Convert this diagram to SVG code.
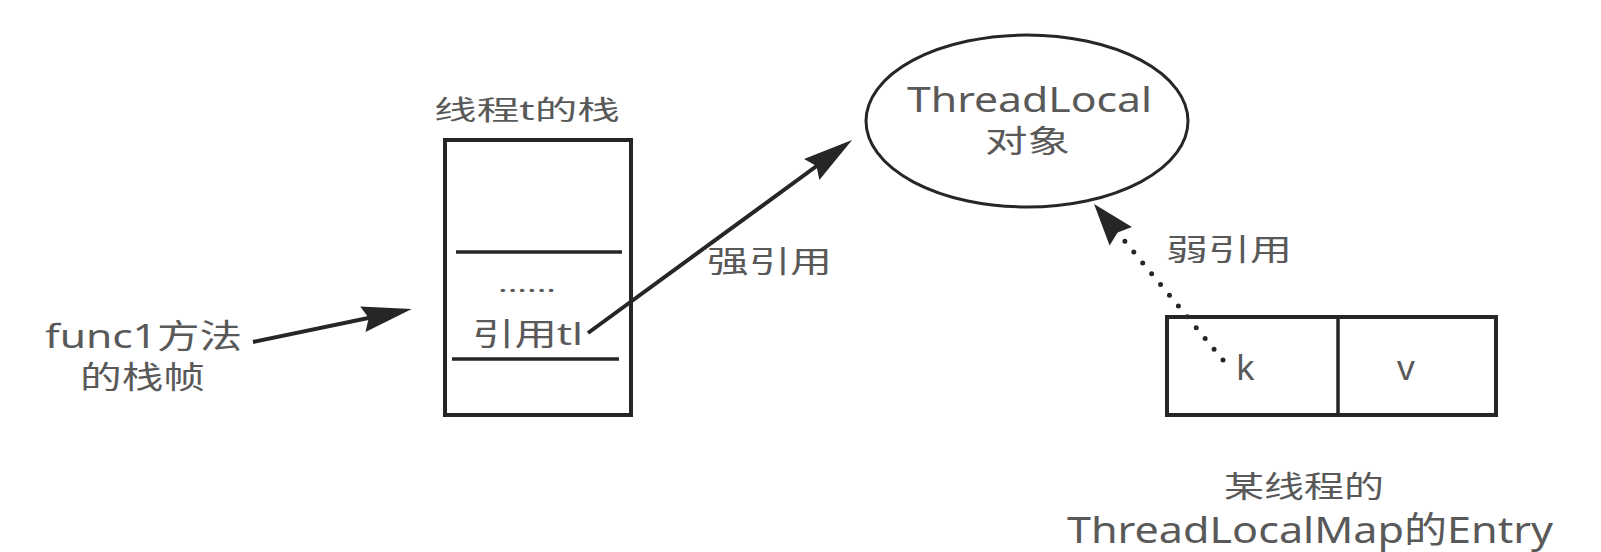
<svg xmlns="http://www.w3.org/2000/svg" width="1601" height="552" viewBox="0 0 1601 552">
  <style>
    .t { font-family: "Noto Sans", "Noto Sans CJK SC", sans-serif; fill: #595959; }
    .box { fill: #ffffff; stroke: #262626; stroke-width: 4; }
    .div { stroke: #262626; stroke-width: 3.5; fill: none; }
    .conn { stroke: #262626; stroke-width: 4; fill: none; }
    .dot { stroke: #262626; stroke-width: 5; fill: none; stroke-dasharray: 0 14; stroke-linecap: round; }
  </style>
  <defs>
    <marker id="head" markerUnits="userSpaceOnUse" markerWidth="50" markerHeight="26" refX="40" refY="13" orient="auto" overflow="visible">
      <path d="M0,0 L50,13 L0,26 L6,13 Z" fill="#262626"/>
    </marker>
    <marker id="headS" markerUnits="userSpaceOnUse" markerWidth="42" markerHeight="29" refX="32" refY="14.5" orient="auto" overflow="visible">
      <path d="M0,0 L42,14.5 L0,29 L5,14.5 Z" fill="#262626"/>
    </marker>
  </defs>
  <rect width="1601" height="552" fill="#ffffff"/>

  <g id="stack">
    <text class="t" x="434" y="120" font-size="27" textLength="186" lengthAdjust="spacingAndGlyphs">线程t的栈</text>
    <rect class="box" x="445" y="140" width="186" height="275"/>
    <line class="div" x1="456" y1="252" x2="622" y2="252"/>
    <line class="div" x1="452" y1="359" x2="619" y2="359"/>
    <text class="t" x="498" y="292" font-size="24" textLength="58" lengthAdjust="spacingAndGlyphs">......</text>
    <text class="t" x="472" y="345" font-size="31" textLength="111" lengthAdjust="spacingAndGlyphs">引用tl</text>
  </g>

  <g id="func1-label">
    <text class="t" x="45" y="348" font-size="33" textLength="197" lengthAdjust="spacingAndGlyphs">func1方法</text>
    <text class="t" x="80" y="388" font-size="31" textLength="125" lengthAdjust="spacingAndGlyphs">的栈帧</text>
  </g>

  <g id="threadlocal">
    <ellipse cx="1027" cy="121" rx="161" ry="86" fill="#ffffff" stroke="#262626" stroke-width="3"/>
    <text class="t" x="907" y="112" font-size="35" textLength="245" lengthAdjust="spacingAndGlyphs">ThreadLocal</text>
    <text class="t" x="985" y="152" font-size="31" textLength="85" lengthAdjust="spacingAndGlyphs">对象</text>
  </g>

  <g id="entry">
    <rect class="box" x="1167" y="317" width="329" height="98"/>
    <line class="div" x1="1338" y1="317" x2="1338" y2="415" stroke-width="4"/>
    <text class="t" x="1236" y="380" font-size="35">k</text>
    <text class="t" x="1397" y="380" font-size="35">v</text>
    <text class="t" x="1224" y="497" font-size="30" textLength="160" lengthAdjust="spacingAndGlyphs">某线程的</text>
    <text class="t" x="1067" y="543" font-size="36" textLength="486" lengthAdjust="spacingAndGlyphs">ThreadLocalMap的Entry</text>
  </g>

  <g id="connectors">
    <path class="conn" d="M253,342 L402,311" marker-end="url(#head)"/>
    <path class="conn" d="M588,333 L844,146" marker-end="url(#head)"/>
    <path class="dot" d="M1223,360 L1100.4,211.7" marker-end="url(#headS)"/>
  </g>

  <g id="edge-labels">
    <text class="t" x="707" y="272" font-size="30" textLength="125" lengthAdjust="spacingAndGlyphs">强引用</text>
    <text class="t" x="1166" y="260" font-size="30" textLength="126" lengthAdjust="spacingAndGlyphs">弱引用</text>
  </g>
</svg>
